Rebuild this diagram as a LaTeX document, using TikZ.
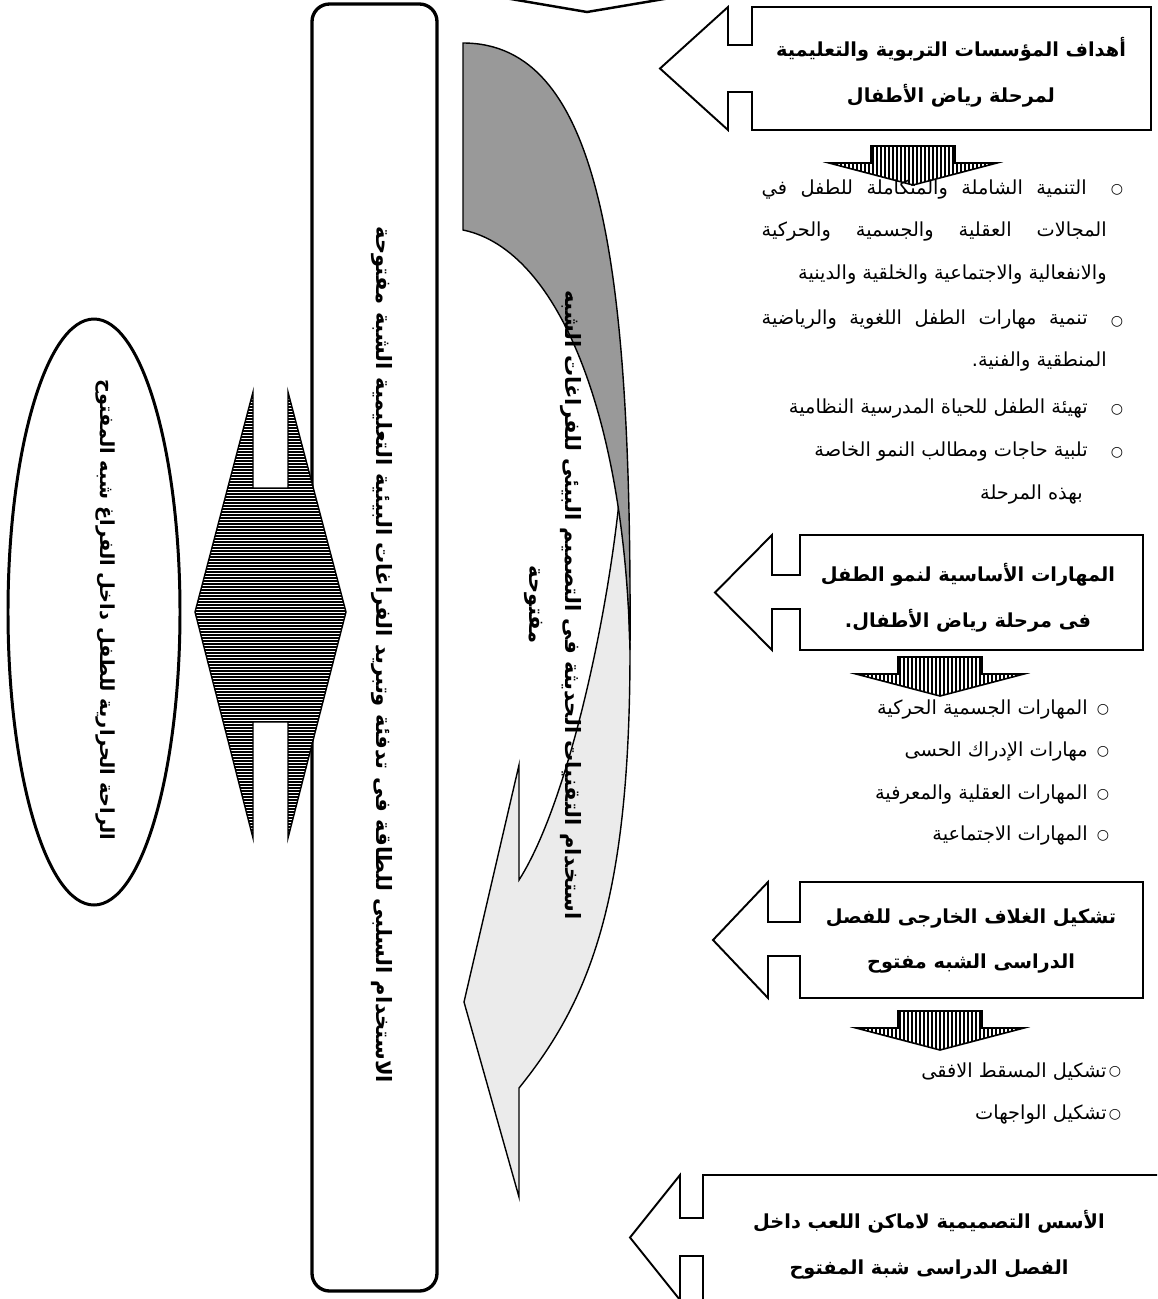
\documentclass[tikz,border=0pt]{standalone}
\usepackage{fontspec}
\newfontfamily\arabicfont[Script=Arabic]{DejaVu Sans}
\TeXXeTstate=1
\usetikzlibrary{positioning}

\newcommand{\artxt}[1]{\beginR #1\endR}

% left-pointing callout: left, right, top, bottom, tip x, head x, shaft top, shaft bottom
\newcommand{\leftcallout}[8]{%
  \draw[frameline] (#1,#3) -- (#2,#3) -- (#2,#4) -- (#1,#4) -- (#1,#8) -- (#6,#8)
    -- (#6,#4) -- (#5,{(#3+#4)/2}) -- (#6,#3) -- (#6,#7) -- (#1,#7) -- cycle;
}
% striped down arrow: centre x, top y
\newcommand{\downfig}[2]{%
  \begin{scope}
    \clip (#1-42,#2) -- (#1+42,#2) -- (#1+42,#2+17) -- (#1+84,#2+17) -- (#1,#2+39)
      -- (#1-84,#2+17) -- (#1-42,#2+17) -- cycle;
    \fill[white] (#1-90,#2-2) rectangle (#1+90,#2+42);
    \foreach \s in {-84,-80,...,84} \draw[line width=0.9pt] (#1+\s,#2-2) -- (#1+\s,#2+42);
  \end{scope}
  \draw[line width=0.9pt] (#1-42,#2) -- (#1+42,#2) -- (#1+42,#2+17) -- (#1+84,#2+17)
    -- (#1,#2+39) -- (#1-84,#2+17) -- (#1-42,#2+17) -- cycle;
}

\tikzset{
  frameline/.style={draw, line width=1.1pt, fill=white},
  headtext/.style={font=\arabicfont\bfseries\fontsize{11}{26}\selectfont, align=center, inner sep=0pt},
  sidetext/.style={font=\arabicfont\bfseries\fontsize{12}{20}\selectfont, align=center, rotate=-90, inner sep=0pt},
  itemtext/.style={font=\arabicfont\fontsize{11}{12}\selectfont, anchor=east, inner sep=0pt},
  itemdot/.style={font=\arabicfont\fontsize{8}{9}\selectfont, inner sep=0pt},
  darkband/.style={draw, line width=0.8pt, fill=black!40},
  lightband/.style={draw, line width=0.8pt, fill=black!8},
}

\begin{document}
\begin{tikzpicture}[x=0.02cm,y=-0.02cm]
\useasboundingbox[fill=white] (0,0) rectangle (1157,1299);
\clip (0,0) rectangle (1157,1299);

% top edge of a shape above the page
\draw[line width=1.4pt] (505,-2) -- (587,12) -- (670,-2);

% tall frame on the left
\draw[line width=1.9pt, rounded corners=10pt, fill=white] (312,4) rectangle (437,1291);

% double arrow between ellipse and frame
\begin{scope}
  \clip (253,392) -- (253,488) -- (288,488) -- (288,392) -- (346,612) -- (288,838)
    -- (288,722) -- (253,722) -- (253,838) -- (195,612) -- cycle;
  \fill[white] (190,385) rectangle (350,845);
  \foreach \y in {392,395,...,840} \draw[line width=0.9pt] (190,\y) -- (350,\y);
\end{scope}
\draw[line width=0.8pt] (253,392) -- (253,488) -- (288,488) -- (288,392) -- (346,612)
  -- (288,838) -- (288,722) -- (253,722) -- (253,838) -- (195,612) -- cycle;

% ellipse
\draw[line width=1.7pt] (94,612) ellipse [x radius=86, y radius=293];

% curved arrow
\draw[lightband] (519,1088) -- (519,1197) -- (464,1002) -- (519,765) -- (519,880)
  .. controls (570,800) and (612,600) .. (622,470) -- (627,550) -- (630,650)
  .. controls (630,900) and (590,1000) .. (519,1088) -- cycle;
\draw[darkband] (463,43) .. controls (600,43) and (632,260) .. (630,650)
  .. controls (625,420) and (560,250) .. (463,230) -- cycle;

% callouts on the right
\leftcallout{752}{1151}{7}{130}{660}{728}{45}{92}
\leftcallout{800}{1143}{535}{650}{715}{772}{575}{609}
\leftcallout{800}{1143}{882}{998}{713}{768}{922}{956}
\leftcallout{703}{1170}{1175}{1300}{630}{680}{1218}{1256}

\downfig{913}{146}
\downfig{940}{657}
\downfig{940}{1011}

% texts in the callouts
\node[headtext] (aims) at (951,72)
  {\artxt{أهداف  المؤسسات التربوية والتعليمية}\\\artxt{لمرحلة رياض الأطفال}};
\node[headtext] (skills) at (968,598)
  {\artxt{المهارات الأساسية لنمو الطفل}\\\artxt{فى مرحلة رياض الأطفال.}};
\node[headtext] (shell) at (971,941)
  {\artxt{تشكيل الغلاف الخارجى للفصل}\\\artxt{الدراسى الشبه مفتوح}};
\node[headtext] (play) at (929,1245)
  {\artxt{الأسس التصميمية لاماكن اللعب داخل}\\\artxt{الفصل الدراسى شبة المفتوح}};

% first list
\foreach \y [count=\i] in {190,322,410,453}
  \node[itemdot] (dotA\i) at (1117,\y) {○};
\node[itemtext] (a1) at (1087,190) {\makebox[6.5cm][s]{\beginR التنمية   الشاملة والمتكاملة للطفل في\endR}};
\node[itemtext] (a2) at (1107,232) {\makebox[6.9cm][s]{\beginR المجالات العقلية والجسمية والحركية\endR}};
\node[itemtext] (a3) at (1107,275) {\artxt{والانفعالية والاجتماعية والخلقية والدينية}};
\node[itemtext] (a4) at (1088,320) {\makebox[6.52cm][s]{\beginR تنمية مهارات الطفل اللغوية والرياضية\endR}};
\node[itemtext] (a5) at (1107,362) {\artxt{المنطقية والفنية.}};
\node[itemtext] (a6) at (1088,409) {\artxt{تهيئة الطفل للحياة المدرسية النظامية}};
\node[itemtext] (a7) at (1088,452) {\artxt{تلبية حاجات ومطالب النمو الخاصة}};
\node[itemtext] (a8) at (1083,495) {\artxt{بهذه المرحلة}};

% second list
\foreach \y [count=\i] in {710,752,795,836}
  \node[itemdot] (dotB\i) at (1103,\y) {○};
\node[itemtext] (b1) at (1088,710) {\artxt{المهارات الجسمية الحركية}};
\node[itemtext] (b2) at (1088,752) {\artxt{مهارات الإدراك الحسى}};
\node[itemtext] (b3) at (1088,795) {\artxt{المهارات العقلية والمعرفية}};
\node[itemtext] (b4) at (1088,836) {\artxt{المهارات الاجتماعية}};

% third list
\foreach \y [count=\i] in {1072,1115}
  \node[itemdot] (dotC\i) at (1115,\y) {○};
\node[itemtext] (c1) at (1107,1072) {\artxt{تشكيل المسقط الافقى}};
\node[itemtext] (c2) at (1107,1115) {\artxt{تشكيل الواجهات}};

% upright texts
\node[sidetext] (passive) at (382,655)
  {\artxt{الاستخدام السلبى للطاقة فى تدفئة وتبريد الفراغات البيئية التعليمية الشبة مفتوحة}};
\node[sidetext, font=\arabicfont\bfseries\fontsize{11}{20}\selectfont] (comfort) at (105,610)
  {\artxt{الراحة الحرارية للطفل داخل الفراغ شبه المفتوح}};
\node[sidetext] (design) at (553,605)
  {\artxt{استخدام التقنيات الحديثة فى التصميم البيئى للفراغات الشبه}\\\artxt{مفتوحة}};
\end{tikzpicture}
\end{document}
